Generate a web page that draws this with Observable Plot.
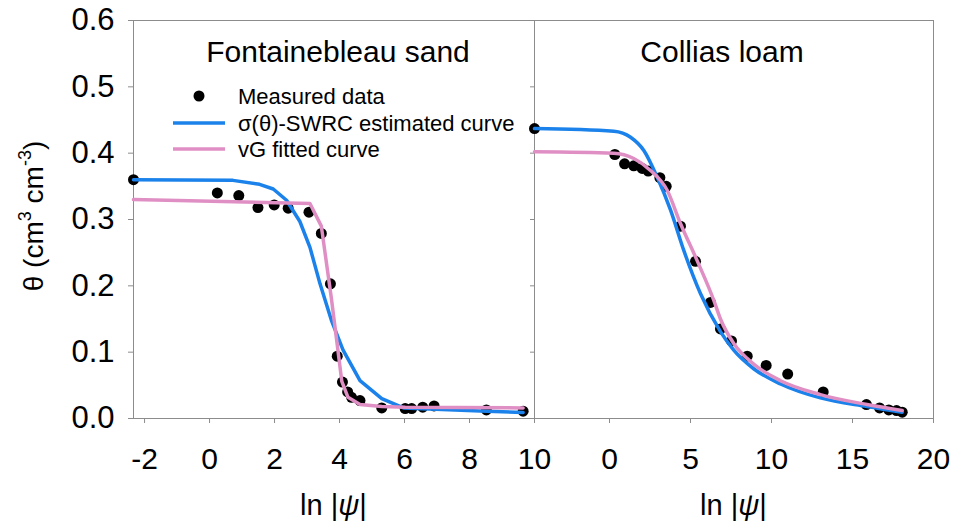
<!DOCTYPE html>
<html><head><meta charset="utf-8">
<script src="https://cdn.jsdelivr.net/npm/d3@7"></script>
<script src="https://cdn.jsdelivr.net/npm/@observablehq/plot@0.6"></script>
<style>
body{margin:0;background:#fff;}
#wrap{position:relative;width:955px;height:527px;font-family:"Liberation Sans",Arial,sans-serif;}
#wrap svg{position:absolute;top:0;overflow:visible;}
</style></head><body><div id="wrap"></div>
<script>
// ---------- data ----------
const titles = ["Fontainebleau sand", "Collias loam"];
const legendLabels = ["Measured data", "σ(θ)-SWRC estimated curve", "vG fitted curve"];
const yTicks = [0, 0.1, 0.2, 0.3, 0.4, 0.5, 0.6];
const sandTicks = [-2, 0, 2, 4, 6, 8, 10];
const loamTicks = [0, 5, 10, 15, 20];
const sandDomain = [-2.34, 10];
const loamDomain = [-4.63, 20];

// Fontainebleau sand
const sandMeasX = [-2.34, 0.24, 0.90, 1.49, 1.99, 2.42, 3.06, 3.44, 3.72, 3.93, 4.09, 4.25, 4.37, 4.63, 5.30, 6.02, 6.22, 6.56, 6.91, 8.52, 9.65];
const sandMeasY = [0.360, 0.340, 0.336, 0.318, 0.322, 0.317, 0.311, 0.279, 0.203, 0.094, 0.055, 0.040, 0.032, 0.027, 0.016, 0.015, 0.015, 0.017, 0.019, 0.013, 0.011];
const sandSigX = [-2.34, 0.72, 1.54, 1.96, 2.37, 2.78, 3.09, 3.40, 3.75, 4.11, 4.63, 5.30, 5.97, 8.53, 9.65];
const sandSigY = [0.360, 0.359, 0.353, 0.346, 0.329, 0.297, 0.258, 0.203, 0.148, 0.103, 0.057, 0.030, 0.016, 0.011, 0.009];
const sandVgX = [-2.34, 3.09, 3.44, 3.75, 3.92, 4.07, 4.26, 4.63, 5.30, 6.02, 9.65];
const sandVgY = [0.330, 0.324, 0.290, 0.181, 0.115, 0.056, 0.032, 0.021, 0.018, 0.017, 0.016];

// Collias loam
const loamMeasX = [-4.63, 0.33, 0.93, 1.50, 2.02, 2.39, 3.11, 3.50, 4.38, 5.31, 6.23, 6.85, 7.53, 8.50, 9.67, 11.0, 13.19, 15.86, 16.67, 17.24, 17.72, 18.07];
const loamMeasY = [0.437, 0.398, 0.384, 0.381, 0.377, 0.373, 0.363, 0.350, 0.290, 0.237, 0.175, 0.135, 0.117, 0.094, 0.080, 0.067, 0.040, 0.021, 0.016, 0.013, 0.012, 0.0095];
const loamSigX = [-4.63, 0.27, 1.30, 2.12, 2.94, 3.77, 4.59, 5.62, 6.85, 7.67, 8.9, 10.56, 13.02, 15.9, 18.07];
const loamSigY = [0.437, 0.433, 0.424, 0.404, 0.364, 0.314, 0.253, 0.188, 0.131, 0.103, 0.075, 0.052, 0.031, 0.018, 0.0095];
const loamVgX = [-4.63, 0.27, 1.5, 2.53, 3.56, 4.38, 5.41, 6.44, 6.85, 7.67, 8.9, 10.56, 13.02, 15.9, 18.07];
const loamVgY = [0.402, 0.400, 0.392, 0.374, 0.344, 0.294, 0.238, 0.178, 0.150, 0.113, 0.082, 0.057, 0.036, 0.021, 0.012];

// ---------- styling ----------
const FONT = '"Liberation Sans", Arial, sans-serif';
const BLUE = "#1a82ea";
const PINK = "#e08fc4";
const FRAME = "#8c8c8c";
const zip = (xs, ys) => xs.map((x, i) => ({x, y: ys[i]}));

function panel({width, mL, mR, domain, ticks, meas, sig, vg, title, titleDx, curve, yLabels}) {
  return Plot.plot({
    width, height: 527, marginLeft: mL, marginRight: mR, marginTop: 20, marginBottom: 109,
    x: {domain, label: null},
    y: {domain: [0, 0.6], label: null},
    style: {fontFamily: FONT, overflow: "visible", background: "transparent", color: "black"},
    marks: [
      Plot.frame({stroke: FRAME}),
      Plot.axisY(yTicks, yLabels
        ? {anchor: "left", tickSize: 5, tickPadding: 14, fontSize: 31, stroke: FRAME, fill: "black", tickFormat: d3.format(".1f"), label: null}
        : {anchor: "left", tickSize: 4, stroke: FRAME, tickFormat: () => "", label: null}),
      Plot.axisX(ticks, {anchor: "bottom", tickSize: 5, tickPadding: 24, fontSize: 30, stroke: FRAME, fill: "black", tickFormat: d => String(d), label: null}),
      Plot.dot(meas, {x: "x", y: "y", r: 5.5, fill: "black", stroke: "none"}),
      Plot.line(sig, {x: "x", y: "y", stroke: BLUE, strokeWidth: 3.5, curve}),
      Plot.line(vg, {x: "x", y: "y", stroke: PINK, strokeWidth: 3.5, curve}),
      Plot.text([title], {frameAnchor: "top", dy: 32, dx: titleDx, fontSize: 30, lineAnchor: "middle", fill: "black"})
    ]
  });
}

const wrap = document.getElementById("wrap");

const left = panel({width: 534, mL: 133, mR: 0, domain: sandDomain, ticks: sandTicks,
  meas: zip(sandMeasX, sandMeasY), sig: zip(sandSigX, sandSigY), vg: zip(sandVgX, sandVgY),
  title: titles[0], titleDx: 4, curve: "linear", yLabels: true});
left.style.left = "0px";
wrap.appendChild(left);

const right = panel({width: 421, mL: 0, mR: 22, domain: loamDomain, ticks: loamTicks,
  meas: zip(loamMeasX, loamMeasY), sig: zip(loamSigX, loamSigY), vg: zip(loamVgX, loamVgY),
  title: titles[1], titleDx: -12, curve: "monotone-x", yLabels: false});
right.style.left = "534px";
wrap.appendChild(right);

// axis labels (rich text)
function xLabel(svg, cx) {
  const t = d3.select(svg).append("text")
    .attr("x", cx).attr("y", 515).attr("text-anchor", "middle")
    .attr("font-size", 29).attr("font-family", FONT).attr("fill", "black");
  t.append("tspan").text("ln |");
  t.append("tspan").attr("font-style", "italic").text("ψ");
  t.append("tspan").text("|");
}
const lx = left.scale("x").range, rx = right.scale("x").range;
xLabel(left, (lx[0] + lx[1]) / 2);
xLabel(right, (rx[0] + rx[1]) / 2);

// y label
{
  const t = d3.select(left).append("text")
    .attr("transform", "translate(43,216) rotate(-90)")
    .attr("text-anchor", "middle").attr("font-size", 28).attr("font-family", FONT).attr("fill", "black");
  t.append("tspan").text("θ (cm");
  t.append("tspan").attr("font-size", 18).attr("dy", -12).text("3");
  t.append("tspan").attr("dy", 12).text(" cm");
  t.append("tspan").attr("font-size", 18).attr("dy", -12).text("-3");
  t.append("tspan").attr("dy", 12).text(")");
}

// legend
{
  const g = d3.select(left).append("g").attr("font-family", FONT).attr("font-size", 22)
    .attr("fill", "black").attr("text-anchor", "start");
  const rows = [96, 123, 149];
  g.append("circle").attr("cx", 199).attr("cy", rows[0]).attr("r", 5.5).attr("fill", "black");
  g.append("line").attr("x1", 173).attr("x2", 225).attr("y1", rows[1]).attr("y2", rows[1]).attr("stroke", BLUE).attr("stroke-width", 3.5);
  g.append("line").attr("x1", 173).attr("x2", 225).attr("y1", rows[2]).attr("y2", rows[2]).attr("stroke", PINK).attr("stroke-width", 3.5);
  legendLabels.forEach((s, i) => {
    g.append("text").attr("x", 238).attr("y", rows[i]).attr("dy", "0.35em").attr("text-anchor", "start").text(s);
  });
}
</script></body></html>
